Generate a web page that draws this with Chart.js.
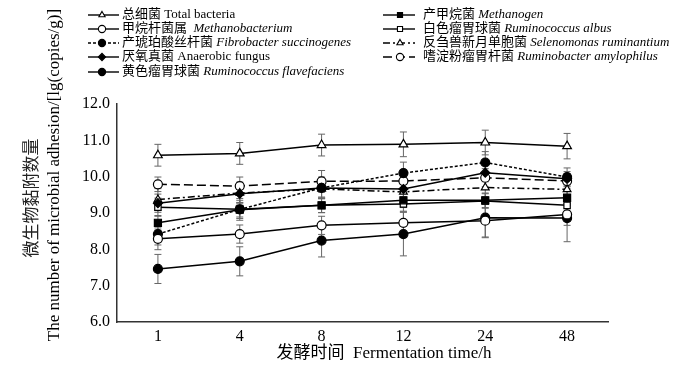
<!DOCTYPE html>
<html><head><meta charset="utf-8">
<script src="https://cdn.jsdelivr.net/npm/chart.js@4"></script>
<style>html,body{margin:0;padding:0;background:#fff}canvas{display:block}</style>
</head><body>
<canvas id="c" width="700" height="376"></canvas>
<script>
const categories = ['1','4','8','12','24','48'];
const yTicks = [6,7,8,9,10,11,12];

const totalBacteria   = [10.59,10.64,10.87,10.89,10.94,10.84];
const methanobacterium= [8.29, 8.42, 8.66, 8.73, 8.79, 8.96];
const fibrobacter     = [8.42, 9.10, 9.69, 10.10,10.39,9.99];
const anaerobicFungus = [9.27, 9.53, 9.69, 9.66, 10.11,9.94];
const flavefaciens    = [7.46, 7.67, 8.24, 8.42, 8.87, 8.86];
const methanogen      = [8.73, 9.09, 9.21, 9.35, 9.35, 9.42];
const albus           = [9.16, 9.10, 9.21, 9.25, 9.33, 9.21];
const selenomonas     = [9.37, 9.55, 9.66, 9.58, 9.70, 9.65];
const ruminobacter    = [9.79, 9.74, 9.87, 9.88, 9.97, 9.88];

const errTotal   = [0.30,0.30,0.30,0.34,0.34,0.35];
const errMethBac = [0.30,0.25,0.25,0.30,0.45,0.30];
const errFibro   = [0.30,0.30,0.30,0.30,0.30,0.25];
const errFungus  = [0.25,0.25,0.25,0.25,0.25,0.20];
const errFlav    = [0.40,0.40,0.45,0.60,0.55,0.65];
const errMethano = [0.20,0.20,0.20,0.20,0.20,0.20];
const errAlbus   = [0.25,0.25,0.20,0.20,0.20,0.20];
const errSeleno  = [0.30,0.30,0.25,0.30,0.25,0.25];
const errRumino  = [0.20,0.25,0.30,0.30,0.25,0.20];

const SERIF = '"Liberation Serif", "Times New Roman", "Noto Sans CJK SC", serif';

function ds(label, data, err, style, filled, dash, radius){
  return {label, data, err, pointStyle: style,
    pointRadius: radius, pointHoverRadius: radius,
    pointBackgroundColor: filled ? '#000' : '#fff',
    pointBorderColor: '#000', pointBorderWidth: 1.2,
    borderColor: '#000', borderWidth: 1.5, borderDash: dash,
    backgroundColor: filled ? '#000' : '#fff', fill: false, tension: 0};
}

const datasets = [
  ds('总细菌 Total bacteria', totalBacteria, errTotal, 'triangle', false, [], 5),
  ds('甲烷杆菌属 Methanobacterium', methanobacterium, errMethBac, 'circle', false, [], 4.5),
  ds('产琥珀酸丝杆菌 Fibrobacter succinogenes', fibrobacter, errFibro, 'circle', true, [3,2], 4.5),
  ds('厌氧真菌 Anaerobic fungus', anaerobicFungus, errFungus, 'rectRot', true, [], 4.5),
  ds('黄色瘤胃球菌 Ruminococcus flavefaciens', flavefaciens, errFlav, 'circle', true, [], 4.5),
  ds('产甲烷菌 Methanogen', methanogen, errMethano, 'rect', true, [], 5),
  ds('白色瘤胃球菌 Ruminococcus albus', albus, errAlbus, 'rect', false, [], 4.5),
  ds('反刍兽新月单胞菌 Selenomonas ruminantium', selenomonas, errSeleno, 'triangle', false, [7,3,2,3], 4.5),
  ds('嗜淀粉瘤胃杆菌 Ruminobacter amylophilus', ruminobacter, errRumino, 'circle', false, [9,4], 4.5)
];

const legendItems = [
  {i:0, col:0, row:0, seg:[['总细菌 Total bacteria',false]]},
  {i:1, col:0, row:1, seg:[['甲烷杆菌属  ',false],['Methanobacterium',true]]},
  {i:2, col:0, row:2, seg:[['产琥珀酸丝杆菌 ',false],['Fibrobacter succinogenes',true]]},
  {i:3, col:0, row:3, seg:[['厌氧真菌 Anaerobic fungus',false]]},
  {i:4, col:0, row:4, seg:[['黄色瘤胃球菌 ',false],['Ruminococcus flavefaciens',true]]},
  {i:5, col:1, row:0, seg:[['产甲烷菌 ',false],['Methanogen',true]]},
  {i:6, col:1, row:1, seg:[['白色瘤胃球菌 ',false],['Ruminococcus albus',true]]},
  {i:7, col:1, row:2, seg:[['反刍兽新月单胞菌 ',false],['Selenomonas ruminantium',true]]},
  {i:8, col:1, row:3, seg:[['嗜淀粉瘤胃杆菌 ',false],['Ruminobacter amylophilus',true]]}
];

const errorBars = {
  id: 'errorBars',
  beforeDatasetsDraw(chart){
    const ctx = chart.ctx, y = chart.scales.y;
    ctx.save();
    ctx.strokeStyle = '#666'; ctx.lineWidth = 1;
    chart.data.datasets.forEach((d, di) => {
      const meta = chart.getDatasetMeta(di);
      d.data.forEach((v, k) => {
        const x = meta.data[k].x;
        const top = y.getPixelForValue(v + d.err[k]);
        const bot = y.getPixelForValue(v - d.err[k]);
        ctx.beginPath();
        ctx.moveTo(x, top); ctx.lineTo(x, bot);
        ctx.moveTo(x-3.5, top); ctx.lineTo(x+3.5, top);
        ctx.moveTo(x-3.5, bot); ctx.lineTo(x+3.5, bot);
        ctx.stroke();
      });
    });
    ctx.restore();
  }
};

function drawSegs(ctx, x, y, segs, size){
  segs.forEach(([t, it]) => {
    ctx.font = (it ? 'italic ' : '') + size + 'px ' + SERIF;
    ctx.fillText(t, x, y);
    x += ctx.measureText(t).width;
  });
}

const extras = {
  id: 'extras',
  afterDraw(chart){
    const ctx = chart.ctx;
    ctx.save();
    ctx.fillStyle = '#000';
    ctx.textBaseline = 'middle';
    ctx.textAlign = 'left';
    const rowsY = [15, 29, 43, 57, 72];
    const cols = [{x0:88, x1:119, mx:102, tx:122}, {x0:383, x1:415, mx:400, tx:423}];
    legendItems.forEach(it => {
      const d = chart.data.datasets[it.i];
      const c = cols[it.col], yy = rowsY[it.row];
      ctx.save();
      ctx.strokeStyle = '#000'; ctx.lineWidth = 1.4;
      ctx.setLineDash(d.borderDash || []);
      ctx.beginPath(); ctx.moveTo(c.x0, yy); ctx.lineTo(c.x1, yy); ctx.stroke();
      ctx.setLineDash([]);
      ctx.fillStyle = d.pointBackgroundColor; ctx.strokeStyle = '#000'; ctx.lineWidth = 1.1;
      Chart.helpers.drawPoint(ctx, {pointStyle: d.pointStyle, radius: 3.6, borderWidth: 1.1, rotation: 0}, c.mx, yy);
      ctx.restore();
      ctx.fillStyle = '#000';
      drawSegs(ctx, c.tx, yy, it.seg, 13);
    });
    ctx.textAlign = 'center';
    ctx.font = '17px ' + SERIF;
    ctx.fillText('发酵时间  Fermentation time/h', 384, 354);
    ctx.save();
    ctx.translate(31, 198); ctx.rotate(-Math.PI/2);
    ctx.font = '17px "Noto Sans CJK SC", sans-serif';
    ctx.fillStyle = '#222';
    ctx.fillText('微生物黏附数量', 0, 0);
    ctx.restore();
    ctx.save();
    ctx.translate(55, 175); ctx.rotate(-Math.PI/2);
    ctx.font = '17px ' + SERIF;
    ctx.fillText('The number of microbial adhesion/[lg(copies/g)]', 0, 0);
    ctx.restore();
    ctx.restore();
  }
};

Chart.defaults.font.family = SERIF;
Chart.defaults.color = '#000';

new Chart(document.getElementById('c'), {
  type: 'line',
  data: {labels: categories, datasets},
  options: {
    responsive: false, animation: false, devicePixelRatio: 1,
    layout: {padding: {top: 104, right: 92, bottom: 0, left: 0}},
    plugins: {legend: {display: false}, tooltip: {enabled: false}},
    scales: {
      x: {
        type: 'category', offset: true,
        grid: {display: false, drawTicks: false},
        border: {color: '#333', width: 1.5},
        ticks: {font: {size: 16, family: SERIF}, color: '#000', padding: 5},
        afterFit(s){ s.height = 54; }
      },
      y: {
        min: 6, max: 12,
        afterBuildTicks(s){ s.ticks = yTicks.map(v => ({value: v})); },
        grid: {display: false, drawTicks: false},
        border: {color: '#333', width: 1.5},
        ticks: {font: {size: 16, family: SERIF}, color: '#000', padding: 7,
                callback: v => Number(v).toFixed(1)},
        afterFit(s){ s.width = 117; }
      }
    }
  },
  plugins: [errorBars, extras]
});
</script>
</body></html>
